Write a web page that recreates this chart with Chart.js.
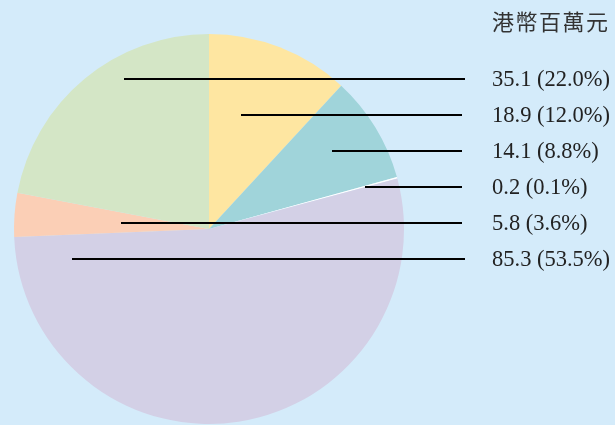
<!DOCTYPE html>
<html>
<head>
<meta charset="utf-8">
<script src="https://cdn.jsdelivr.net/npm/chart.js@4"></script>
<style>
  html, body { margin: 0; padding: 0; background: #D4EBFA; }
  #wrap { width: 615px; height: 425px; position: relative; }
</style>
</head>
<body>
<div id="wrap"><canvas id="c" width="615" height="425"></canvas></div>
<script>
// Data (slice order: clockwise from 12 o'clock)
const categories = ['S1', 'S2', 'S3', 'S4', 'S5', 'S6'];
const values = [18.9, 14.1, 0.2, 85.3, 5.8, 35.1];
const percentLabels = ['12.0%', '8.8%', '0.1%', '53.5%', '3.6%', '22.0%'];
const sliceColors = ['#FEE6A1', '#A0D4DA', '#FFFFFF', '#D3D0E6', '#FBCFB6', '#D4E6C6'];
// Order in which the labels are listed on the right (top to bottom)
const labelOrder = [5, 0, 1, 2, 4, 3];
const unitTitle = '港幣百萬元';

// Layout of leader lines (annotation styling, not data)
const leaderStartX = [124, 241, 332, 365, 121, 72];
const leaderEndX = [465, 462, 462, 462, 462, 465];
const firstRowY = 79;
const rowGap = 36;
const labelX = 492;

const leaderPlugin = {
  id: 'leaders',
  afterDraw(chart) {
    const ctx = chart.ctx;
    ctx.save();
    // unit title
    ctx.fillStyle = '#333';
    ctx.font = '22px "Noto Sans CJK TC", "Noto Sans CJK SC", sans-serif';
    try { ctx.letterSpacing = '1.5px'; } catch (e) {}
    ctx.textBaseline = 'middle';
    ctx.textAlign = 'left';
    ctx.fillText(unitTitle, labelX, 22);
    try { ctx.letterSpacing = '0px'; } catch (e) {}
    // leader lines + labels
    ctx.font = '22.5px "Liberation Serif", "Times New Roman", serif';
    labelOrder.forEach((idx, row) => {
      const y = firstRowY + row * rowGap;
      ctx.strokeStyle = '#000';
      ctx.lineWidth = 1.8;
      ctx.beginPath();
      ctx.moveTo(leaderStartX[row], y);
      ctx.lineTo(leaderEndX[row], y);
      ctx.stroke();
      ctx.fillStyle = '#222';
      ctx.fillText(values[idx].toFixed(1) + ' (' + percentLabels[idx] + ')', labelX, y + 1);
    });
    ctx.restore();
  }
};

new Chart(document.getElementById('c'), {
  type: 'pie',
  data: {
    labels: categories,
    datasets: [{
      data: values,
      backgroundColor: sliceColors,
      borderWidth: 0,
      hoverOffset: 0
    }]
  },
  options: {
    responsive: false,
    animation: false,
    layout: { padding: { left: 13, right: 210, top: 34, bottom: 1 } },
    plugins: {
      legend: { display: false },
      tooltip: { enabled: false },
      title: { display: false }
    }
  },
  plugins: [leaderPlugin]
});
</script>
</body>
</html>
